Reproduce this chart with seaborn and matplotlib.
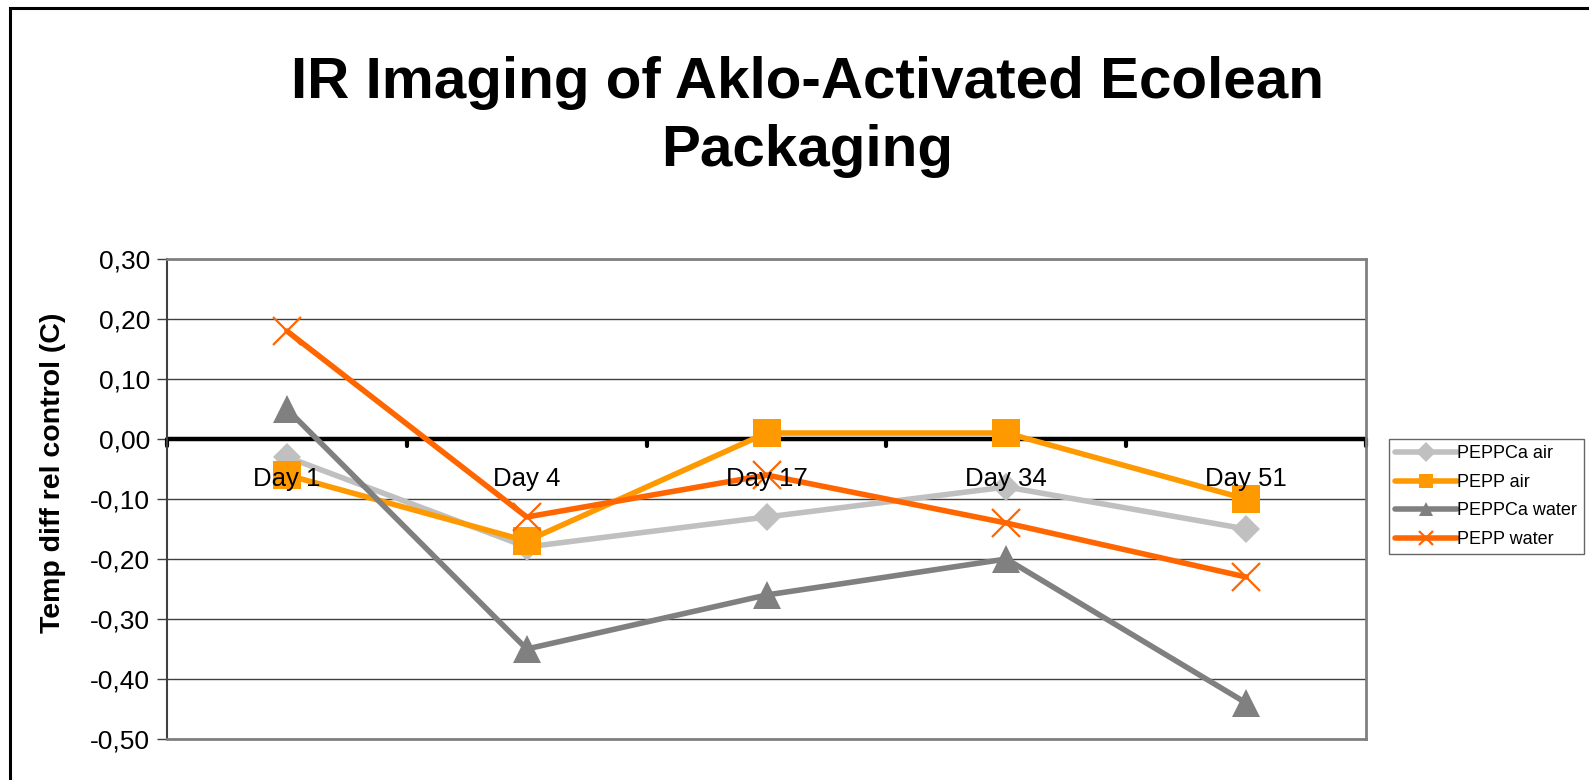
import numpy as np
import pandas as pd
import matplotlib
matplotlib.use("Agg")
import matplotlib.pyplot as plt
import seaborn as sns
from matplotlib.patches import Rectangle

days = ["Day 1", "Day 4", "Day 17", "Day 34", "Day 51"]
peppca_air = [-0.03, -0.18, -0.13, -0.08, -0.15]
pepp_air = [-0.06, -0.17, 0.01, 0.01, -0.10]
peppca_water = [0.05, -0.35, -0.26, -0.20, -0.44]
pepp_water = [0.18, -0.13, -0.06, -0.14, -0.23]
yticks = [0.30, 0.20, 0.10, 0.00, -0.10, -0.20, -0.30, -0.40, -0.50]

# name, values, colour, marker, marker size
series = [
    ("PEPPCa air", peppca_air, "#C0C0C0", "D", 14),
    ("PEPP air", pepp_air, "#FF9900", "s", 19.5),
    ("PEPPCa water", peppca_water, "#808080", "^", 19.5),
    ("PEPP water", pepp_water, "#FF6600", "x", 19.5),
]

sns.set_style("white")
plt.rcParams['font.family'] = ['Liberation Sans', 'DejaVu Sans']
plt.rcParams['text.color'] = 'black'
plt.rcParams['ytick.color'] = 'black'
plt.rcParams['axes.labelcolor'] = 'black'

fig = plt.figure(figsize=(15.89, 7.80), dpi=100)
ax = fig.add_axes([0.1051, 0.0526, 0.7546, 0.6153])

for name, vals, color, marker, ms in series:
    df = pd.DataFrame({'x': np.arange(len(days)), 'y': vals})
    sns.lineplot(data=df, x='x', y='y', ax=ax, color=color, linewidth=4,
                 marker=marker, markersize=ms, markeredgecolor=color,
                 markeredgewidth=1.6 if marker == "x" else 0,
                 label=name, zorder=3)

ax.set_xlim(-0.5, len(days) - 0.5)
ax.set_ylim(-0.50, 0.30)
ax.set_yticks(yticks)
ax.set_yticklabels([f"{v:.2f}".replace(".", ",") for v in yticks], fontsize=19)
ax.set_xticks([])
ax.set_xlabel('')
ax.set_ylabel('Temp diff rel control (C)', fontsize=20.5, fontweight='bold')
ax.yaxis.set_label_coords(-0.084, 0.554)
ax.tick_params(axis='y', length=7, width=1, color='#404040', direction='out', pad=5, left=True)

for v in yticks:
    if v != 0:
        ax.axhline(v, color='#404040', lw=1, zorder=1)
ax.axhline(0, color='black', lw=3.2, zorder=2)
for b in np.arange(-0.5, len(days), 1.0):
    ax.plot([b, b], [0, -0.012], color='black', lw=3, zorder=2, clip_on=False)

for i, d in enumerate(days):
    ax.text(i, -0.066, d, ha='center', va='center', fontsize=18.5, zorder=4)

for s in ['top', 'right', 'bottom']:
    ax.spines[s].set_color('#808080')
    ax.spines[s].set_linewidth(2)
ax.spines['left'].set_color('#404040')
ax.spines['left'].set_linewidth(1.5)

leg = ax.legend(loc='upper left', bbox_to_anchor=(1.019, 0.625), fontsize=13,
                frameon=True, fancybox=False, edgecolor='#404040',
                handlelength=3.4, handletextpad=0.05, borderpad=0.35,
                labelspacing=0.64, borderaxespad=0)
leg.get_frame().set_linewidth(1)
for h in leg.legend_handles:
    h.set_markersize(10)

fig.text(0.508, 0.85, 'IR Imaging of Aklo-Activated Ecolean\nPackaging', fontsize=42,
         fontweight='bold', ha='center', va='center', linespacing=1.34, color='black')

fig.patches.append(Rectangle((10 / 1589, -0.1), 1.2, 1 - 8 / 780 + 0.1,
                             transform=fig.transFigure, fill=False,
                             edgecolor='black', lw=2.2))

fig.savefig('out.png', dpi=100)
